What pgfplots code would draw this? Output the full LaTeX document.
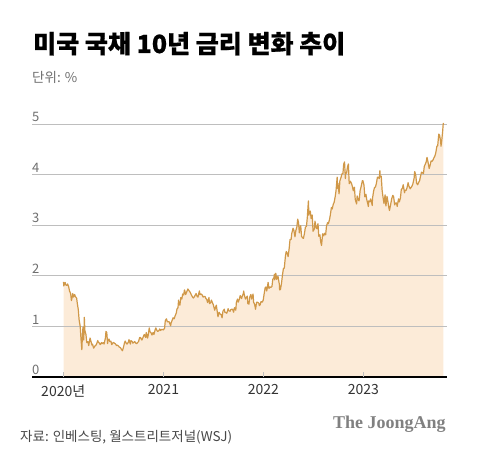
\documentclass[border=0pt]{standalone}
\usepackage{fontspec}
\setmainfont{Noto Sans CJK KR}
\newfontfamily\titlefont{Noto Sans CJK KR}[BoldFeatures={FakeBold=0.7}]
\newfontfamily\brandfont{Liberation Serif}
\usepackage{pgfplots}
\pgfplotsset{compat=1.18}
\usepgfplotslibrary{dateplot}
\usepackage{pgfplotstable}
\definecolor{linec}{RGB}{208,152,72}
\definecolor{fillc}{RGB}{252,235,216}
\definecolor{gridc}{RGB}{190,190,190}
\definecolor{ticklab}{RGB}{110,110,110}

\pgfplotstableread{
date v
2020-01-02 1.88
2020-01-03 1.80
2020-01-08 1.87
2020-01-10 1.82
2020-01-14 1.81
2020-01-17 1.84
2020-01-21 1.78
2020-01-24 1.70
2020-01-28 1.65
2020-01-31 1.51
2020-02-05 1.65
2020-02-07 1.58
2020-02-12 1.63
2020-02-14 1.59
2020-02-19 1.56
2020-02-21 1.47
2020-02-25 1.33
2020-02-28 1.13
2020-03-03 1.00
2020-03-06 0.74
2020-03-09 0.54
2020-03-11 0.82
2020-03-13 0.98
2020-03-16 0.73
2020-03-18 1.18
2020-03-20 0.92
2020-03-24 0.84
2020-03-27 0.68
2020-03-31 0.70
2020-04-03 0.62
2020-04-08 0.77
2020-04-10 0.73
2020-04-15 0.63
2020-04-17 0.65
2020-04-21 0.57
2020-04-24 0.60
2020-04-29 0.63
2020-05-01 0.64
2020-05-06 0.72
2020-05-08 0.69
2020-05-12 0.67
2020-05-15 0.64
2020-05-20 0.68
2020-05-22 0.66
2020-05-27 0.68
2020-05-29 0.65
2020-06-03 0.77
2020-06-05 0.90
2020-06-08 0.88
2020-06-11 0.66
2020-06-12 0.71
2020-06-16 0.75
2020-06-19 0.70
2020-06-23 0.71
2020-06-26 0.64
2020-07-01 0.68
2020-07-03 0.68
2020-07-08 0.66
2020-07-10 0.65
2020-07-14 0.62
2020-07-17 0.63
2020-07-21 0.61
2020-07-24 0.59
2020-07-28 0.58
2020-07-31 0.55
2020-08-04 0.52
2020-08-07 0.57
2020-08-12 0.68
2020-08-14 0.71
2020-08-18 0.67
2020-08-21 0.65
2020-08-26 0.69
2020-08-28 0.74
2020-09-02 0.65
2020-09-04 0.72
2020-09-09 0.70
2020-09-11 0.67
2020-09-16 0.69
2020-09-18 0.70
2020-09-22 0.67
2020-09-25 0.66
2020-09-30 0.69
2020-10-02 0.70
2020-10-06 0.78
2020-10-09 0.78
2020-10-14 0.73
2020-10-16 0.75
2020-10-21 0.82
2020-10-23 0.84
2020-10-28 0.78
2020-10-30 0.88
2020-11-04 0.77
2020-11-06 0.82
2020-11-10 0.97
2020-11-13 0.89
2020-11-17 0.87
2020-11-20 0.83
2020-11-24 0.88
2020-11-27 0.84
2020-12-02 0.94
2020-12-04 0.97
2020-12-08 0.92
2020-12-11 0.90
2020-12-16 0.92
2020-12-18 0.95
2020-12-22 0.92
2020-12-24 0.94
2020-12-29 0.94
2020-12-31 0.93
2021-01-05 0.96
2021-01-07 1.08
2021-01-08 1.12
2021-01-12 1.15
2021-01-15 1.09
2021-01-19 1.09
2021-01-22 1.09
2021-01-27 1.01
2021-01-29 1.07
2021-02-03 1.14
2021-02-05 1.17
2021-02-09 1.15
2021-02-12 1.20
2021-02-17 1.27
2021-02-19 1.34
2021-02-23 1.37
2021-02-25 1.52
2021-02-26 1.44
2021-03-02 1.42
2021-03-05 1.57
2021-03-09 1.54
2021-03-12 1.64
2021-03-16 1.62
2021-03-18 1.71
2021-03-19 1.72
2021-03-23 1.63
2021-03-26 1.67
2021-03-31 1.74
2021-04-05 1.70
2021-04-09 1.67
2021-04-13 1.62
2021-04-16 1.59
2021-04-20 1.56
2021-04-23 1.58
2021-04-27 1.62
2021-04-30 1.65
2021-05-04 1.59
2021-05-07 1.58
2021-05-12 1.70
2021-05-14 1.63
2021-05-18 1.64
2021-05-21 1.63
2021-05-26 1.58
2021-05-28 1.59
2021-06-02 1.59
2021-06-04 1.56
2021-06-08 1.53
2021-06-11 1.47
2021-06-16 1.57
2021-06-18 1.45
2021-06-22 1.47
2021-06-25 1.52
2021-06-30 1.45
2021-07-02 1.43
2021-07-07 1.32
2021-07-09 1.36
2021-07-13 1.42
2021-07-16 1.30
2021-07-19 1.19
2021-07-23 1.28
2021-07-27 1.24
2021-07-30 1.24
2021-08-03 1.17
2021-08-06 1.30
2021-08-11 1.34
2021-08-13 1.28
2021-08-18 1.27
2021-08-20 1.26
2021-08-25 1.35
2021-08-27 1.31
2021-09-01 1.30
2021-09-03 1.33
2021-09-08 1.34
2021-09-10 1.34
2021-09-14 1.28
2021-09-17 1.37
2021-09-22 1.32
2021-09-24 1.47
2021-09-28 1.54
2021-10-01 1.48
2021-10-05 1.54
2021-10-08 1.61
2021-10-13 1.55
2021-10-15 1.59
2021-10-19 1.64
2021-10-21 1.70
2021-10-22 1.65
2021-10-27 1.54
2021-10-29 1.56
2021-11-03 1.60
2021-11-05 1.45
2021-11-09 1.44
2021-11-12 1.58
2021-11-16 1.63
2021-11-19 1.54
2021-11-24 1.64
2021-11-26 1.48
2021-11-30 1.43
2021-12-03 1.34
2021-12-07 1.48
2021-12-10 1.48
2021-12-15 1.46
2021-12-17 1.41
2021-12-20 1.43
2021-12-23 1.49
2021-12-28 1.48
2021-12-31 1.52
2022-01-04 1.66
2022-01-07 1.76
2022-01-10 1.78
2022-01-13 1.70
2022-01-18 1.87
2022-01-21 1.75
2022-01-25 1.78
2022-01-28 1.77
2022-02-01 1.79
2022-02-04 1.93
2022-02-08 1.96
2022-02-10 2.03
2022-02-11 1.92
2022-02-15 2.05
2022-02-18 1.93
2022-02-23 1.99
2022-02-24 1.96
2022-02-28 1.83
2022-03-01 1.72
2022-03-04 1.73
2022-03-08 1.86
2022-03-11 2.00
2022-03-15 2.15
2022-03-18 2.15
2022-03-22 2.38
2022-03-25 2.48
2022-03-28 2.46
2022-04-01 2.38
2022-04-05 2.55
2022-04-08 2.72
2022-04-12 2.72
2022-04-14 2.83
2022-04-19 2.94
2022-04-22 2.90
2022-04-26 2.77
2022-04-29 2.89
2022-05-03 2.97
2022-05-06 3.12
2022-05-09 3.05
2022-05-12 2.85
2022-05-13 2.93
2022-05-17 2.99
2022-05-20 2.78
2022-05-24 2.75
2022-05-27 2.74
2022-05-31 2.85
2022-06-03 2.96
2022-06-07 2.98
2022-06-10 3.15
2022-06-14 3.48
2022-06-16 3.20
2022-06-17 3.23
2022-06-21 3.28
2022-06-24 3.13
2022-06-28 3.20
2022-07-01 2.88
2022-07-06 2.93
2022-07-08 3.08
2022-07-12 2.96
2022-07-15 2.93
2022-07-19 3.03
2022-07-22 2.78
2022-07-26 2.81
2022-07-29 2.67
2022-08-01 2.60
2022-08-05 2.83
2022-08-09 2.79
2022-08-12 2.84
2022-08-16 2.81
2022-08-19 2.98
2022-08-23 3.05
2022-08-26 3.03
2022-08-30 3.11
2022-09-02 3.20
2022-09-06 3.35
2022-09-09 3.32
2022-09-13 3.42
2022-09-16 3.45
2022-09-20 3.57
2022-09-23 3.69
2022-09-27 3.95
2022-09-28 3.73
2022-09-30 3.83
2022-10-04 3.62
2022-10-07 3.88
2022-10-11 3.94
2022-10-14 4.01
2022-10-18 4.02
2022-10-21 4.21
2022-10-24 4.25
2022-10-27 3.92
2022-10-28 4.01
2022-11-01 4.05
2022-11-04 4.16
2022-11-07 4.21
2022-11-10 3.82
2022-11-14 3.87
2022-11-18 3.83
2022-11-22 3.76
2022-11-25 3.68
2022-11-29 3.75
2022-12-02 3.51
2022-12-07 3.42
2022-12-09 3.58
2022-12-13 3.50
2022-12-16 3.48
2022-12-20 3.69
2022-12-23 3.75
2022-12-28 3.88
2022-12-30 3.88
2023-01-03 3.79
2023-01-06 3.56
2023-01-10 3.61
2023-01-13 3.51
2023-01-19 3.37
2023-01-20 3.48
2023-01-24 3.46
2023-01-27 3.52
2023-02-01 3.42
2023-02-02 3.39
2023-02-03 3.53
2023-02-07 3.67
2023-02-10 3.74
2023-02-14 3.76
2023-02-17 3.82
2023-02-21 3.95
2023-02-24 3.95
2023-02-28 3.92
2023-03-02 4.08
2023-03-03 3.96
2023-03-07 3.97
2023-03-10 3.70
2023-03-13 3.57
2023-03-17 3.43
2023-03-21 3.60
2023-03-24 3.38
2023-03-28 3.57
2023-03-31 3.48
2023-04-04 3.34
2023-04-06 3.29
2023-04-11 3.43
2023-04-14 3.52
2023-04-18 3.59
2023-04-21 3.57
2023-04-25 3.40
2023-04-28 3.44
2023-05-02 3.44
2023-05-04 3.37
2023-05-09 3.52
2023-05-12 3.46
2023-05-16 3.54
2023-05-19 3.70
2023-05-24 3.74
2023-05-26 3.80
2023-05-31 3.64
2023-06-02 3.69
2023-06-06 3.69
2023-06-09 3.74
2023-06-13 3.84
2023-06-16 3.77
2023-06-21 3.72
2023-06-23 3.74
2023-06-27 3.77
2023-06-30 3.81
2023-07-05 3.93
2023-07-07 4.06
2023-07-11 3.99
2023-07-14 3.83
2023-07-18 3.80
2023-07-21 3.84
2023-07-25 3.88
2023-07-28 3.96
2023-08-01 4.05
2023-08-04 4.04
2023-08-08 4.02
2023-08-11 4.16
2023-08-15 4.21
2023-08-18 4.25
2023-08-21 4.34
2023-08-25 4.24
2023-08-29 4.12
2023-09-01 4.18
2023-09-05 4.27
2023-09-08 4.26
2023-09-12 4.29
2023-09-15 4.33
2023-09-19 4.37
2023-09-22 4.43
2023-09-26 4.56
2023-09-29 4.57
2023-10-03 4.80
2023-10-06 4.78
2023-10-10 4.65
2023-10-11 4.56
2023-10-13 4.63
2023-10-17 4.85
2023-10-19 4.99
2023-10-20 5.02
}\yields

\begin{document}
\begin{tikzpicture}[x=1pt,y=1pt]
\path (0,0) rectangle (480,464);
\node[anchor=base west, inner sep=0pt, font=\titlefont\fontsize{25}{25}\selectfont\bfseries] at (33,411) {미국 국채 10년 금리 변화 추이};
\node[anchor=base west, inner sep=0pt, text=ticklab, font=\fontsize{13.5}{13.5}\selectfont] at (32,381) {단위: \%};
\begin{axis}[
  at={(32pt,87pt)}, anchor=south west,
  scale only axis, width=415pt, height=253pt,
  set layers,
  date coordinates in=x, date ZERO=2020-01-01,
  xmin=2019-09-09, xmax=2023-11-02,
  ymin=0, ymax=5,
  clip=false,
  axis line style={draw=none},
  xtick={2020-01-01,2021-01-01,2022-01-01,2023-01-01},
  xticklabels={2020년,2021,2022,2023},
  xtick pos=bottom, xtick align=inside,
  major tick length=5pt,
  xtick style={gridc, line width=0.8pt},
  ytick={1,2,3,4,5},
  extra y ticks={0},
  extra y tick style={major grid style={black, line width=1.2pt}},
  ytick style={draw=none},
  ymajorgrids,
  major grid style={gridc, line width=0.8pt},
  /pgf/number format/assume math mode=true,
  yticklabel style={anchor=south west, inner sep=0pt, yshift=2pt, xshift=0pt, text=ticklab, font=\fontsize{13}{13}\selectfont},
  xticklabel style={anchor=north, yshift=-4pt, text=black!80, font=\fontsize{14}{14}\selectfont},
]
\addplot[draw=none, fill=fillc, on layer=axis background] table[x=date, y=v] {\yields} \closedcycle;
\addplot[linec, line width=1.2pt, line join=round] table[x=date, y=v] {\yields};
\end{axis}
\node[anchor=base west, inner sep=0pt, text=black!72, font=\fontsize{13.5}{13.5}\selectfont] at (20,22) {자료: 인베스팅, 월스트리트저널(WSJ)};
\node[anchor=base west, inner sep=0pt, text=black!50, font=\brandfont\fontsize{18}{18}\selectfont\bfseries] at (333,35) {The JoongAng};
\end{tikzpicture}
\end{document}
